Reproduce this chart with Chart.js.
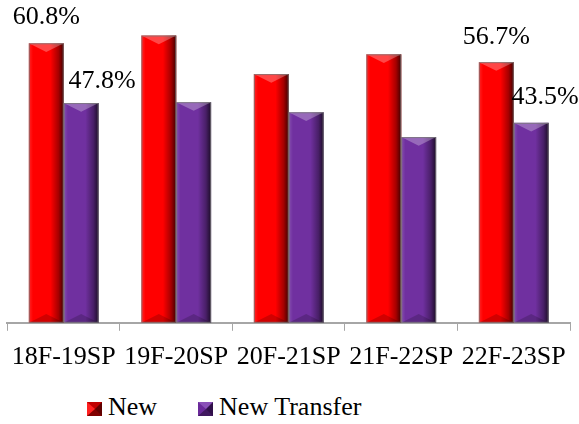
<!DOCTYPE html>
<html>
<head>
<meta charset="utf-8">
<script src="https://cdn.jsdelivr.net/npm/chart.js@4"></script>
<style>
  html, body { margin: 0; padding: 0; background: #fff; }
  #wrap { width: 579px; height: 424px; position: relative; }
  #box { position: absolute; left: 0; top: 0; width: 579px; height: 385px; }
  #legend {
    position: absolute; left: 87px; top: 392px;
    font: 26px 'Liberation Serif', 'Times New Roman', serif;
    line-height: 30px; color: #000; white-space: nowrap;
  }
  #legend .item { display: inline-flex; align-items: center; margin-right: 41px; }
  #legend .sw {
    width: 0; height: 0; margin-right: 6px; margin-top: 3px;
    border-style: solid; border-width: 7px 7px 7px 8px;
  }
</style>
</head>
<body>
<div id="wrap">
  <div id="box"><canvas id="chart"></canvas></div>
  <div id="legend"></div>
</div>
<script>
// Data
const categories = ['18F-19SP', '19F-20SP', '20F-21SP', '21F-22SP', '22F-23SP'];
const newValues = [60.8, 62.5, 54.1, 58.4, 56.7];
const transferValues = [47.8, 48.0, 45.8, 40.4, 43.5];
// only first and last groups carry a label in the original
const newLabels = ['60.8%', null, null, null, '56.7%'];
const transferLabels = ['47.8%', null, null, null, '43.5%'];

const serif = "'Liberation Serif', 'Times New Roman', serif";

// gives the bars a bevelled, shaded look
const bevelPlugin = {
  id: 'bevel',
  afterDatasetsDraw(chart) {
    const ctx = chart.ctx;
    chart.data.datasets.forEach((ds, i) => {
      chart.getDatasetMeta(i).data.forEach(bar => {
        const left = bar.x - bar.width / 2;
        const right = bar.x + bar.width / 2;
        const top = bar.y;
        const bottom = bar.base;
        const w = bar.width;
        ctx.save();
        const g = ctx.createLinearGradient(left, 0, right, 0);
        g.addColorStop(0, 'rgba(255,255,255,0.15)');
        g.addColorStop(0.12, 'rgba(255,255,255,0)');
        g.addColorStop(0.62, 'rgba(0,0,0,0)');
        g.addColorStop(0.85, 'rgba(0,0,0,0.35)');
        g.addColorStop(1, 'rgba(0,0,0,0.75)');
        ctx.fillStyle = g;
        ctx.fillRect(left, top, w, bottom - top);
        // top bevel
        const b = Math.min(9, w / 4);
        ctx.fillStyle = 'rgba(255,255,255,0.28)';
        ctx.beginPath();
        ctx.moveTo(left, top);
        ctx.lineTo(right, top);
        ctx.lineTo(bar.x, top + b);
        ctx.closePath();
        ctx.fill();
        // bottom bevel
        ctx.fillStyle = 'rgba(0,0,0,0.18)';
        ctx.beginPath();
        ctx.moveTo(left, bottom);
        ctx.lineTo(right, bottom);
        ctx.lineTo(bar.x, bottom - b);
        ctx.closePath();
        ctx.fill();
        ctx.strokeStyle = 'rgba(120,120,120,0.8)';
        ctx.lineWidth = 1;
        ctx.strokeRect(left + 0.5, top + 0.5, w - 1, bottom - top - 1);
        ctx.restore();
      });
    });
  }
};

// value labels, nudged like the hand placed ones in the original
const labelOffsets = [
  [[0, -26], null, null, null, [0, -25]],
  [[21, -22], null, null, null, [14, -26]]
];
const valueLabelPlugin = {
  id: 'valueLabels',
  afterDatasetsDraw(chart) {
    const ctx = chart.ctx;
    const all = [newLabels, transferLabels];
    ctx.save();
    ctx.font = '26px ' + serif;
    ctx.fillStyle = '#000';
    ctx.textAlign = 'center';
    ctx.textBaseline = 'middle';
    all.forEach((labels, i) => {
      chart.getDatasetMeta(i).data.forEach((bar, j) => {
        if (!labels[j]) return;
        const off = labelOffsets[i][j];
        ctx.fillText(labels[j], bar.x + off[0], bar.y + off[1]);
      });
    });
    ctx.restore();
  }
};

const colors = ['#FF0000', '#7030A0'];
const seriesNames = ['New', 'New Transfer'];

const ctx = document.getElementById('chart').getContext('2d');
const chart = new Chart(ctx, {
  type: 'bar',
  data: {
    labels: categories,
    datasets: [{
      label: seriesNames[0],
      data: newValues,
      backgroundColor: colors[0]
    }, {
      label: seriesNames[1],
      data: transferValues,
      backgroundColor: colors[1]
    }]
  },
  options: {
    responsive: true,
    maintainAspectRatio: false,
    animation: false,
    layout: {
      padding: { top: 1, left: 7, right: 9, bottom: 1 }
    },
    datasets: {
      bar: {
        categoryPercentage: 0.62,
        barPercentage: 1.0
      }
    },
    plugins: {
      tooltip: { enabled: false },
      legend: { display: false }
    },
    scales: {
      y: {
        display: false,
        min: 0,
        max: 70
      },
      x: {
        grid: {
          display: true,
          drawOnChartArea: false,
          color: '#A6A6A6',
          tickLength: 8,
          offset: true
        },
        border: { color: '#A6A6A6', width: 2 },
        ticks: {
          color: '#000',
          font: { family: serif, size: 26 },
          padding: 11,
          maxRotation: 0,
          autoSkip: false
        }
      }
    }
  },
  plugins: [bevelPlugin, valueLabelPlugin]
});

// legend as html, built from the chart's datasets
const legendEl = document.getElementById('legend');
const shades = [
  ['#C00000', '#600000', '#800000', '#FF2020'],
  ['#8A50B8', '#30104A', '#40185F', '#6A2A9A']
];
chart.data.datasets.forEach((ds, i) => {
  const item = document.createElement('span');
  item.className = 'item';
  const sw = document.createElement('span');
  sw.className = 'sw';
  const s = shades[i];
  sw.style.borderColor = s[0] + ' ' + s[1] + ' ' + s[2] + ' ' + s[3];
  item.appendChild(sw);
  item.appendChild(document.createTextNode(ds.label));
  legendEl.appendChild(item);
});
</script>
</body>
</html>
